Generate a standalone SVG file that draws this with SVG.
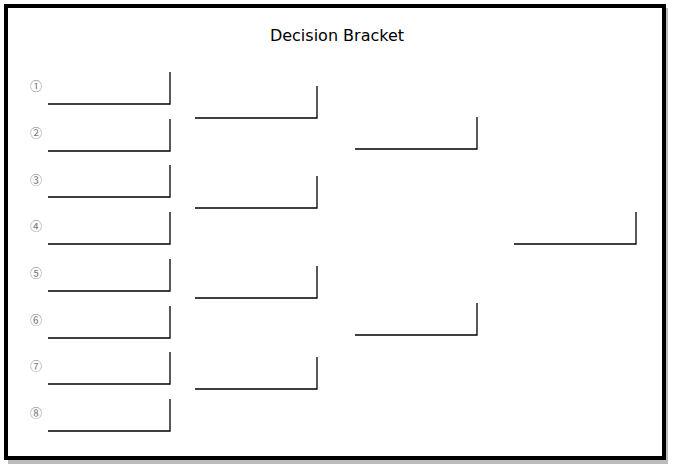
<svg xmlns="http://www.w3.org/2000/svg" width="676" height="468" viewBox="0 0 676 468">
<style>
.b{fill:none;stroke:#000;stroke-width:1.3}
.n{font-family:"Noto Sans CJK SC","DejaVu Sans",sans-serif;font-size:12px;fill:#777;text-anchor:middle}
.t{font-family:"Comic Sans MS","DejaVu Sans",sans-serif;font-size:16px;fill:#000;text-anchor:middle}
</style>
<rect x="0" y="0" width="676" height="468" fill="#fff"/>
<rect x="8" y="8" width="660" height="456" fill="#bbb"/>
<rect x="6" y="6" width="658" height="452" fill="#fff" stroke="#000" stroke-width="4"/>
<text class="t" x="337" y="41">Decision Bracket</text>
<g id="labels">
<text class="n" x="36" y="91">①</text><text class="n" x="36" y="138">②</text>
<text class="n" x="36" y="185">③</text><text class="n" x="36" y="231">④</text>
<text class="n" x="36" y="278">⑤</text><text class="n" x="36" y="325">⑥</text>
<text class="n" x="36" y="371">⑦</text><text class="n" x="36" y="418">⑧</text>
</g>
<g id="connectors">
<path class="b" d="M48 104H170V72M48 151H170V119M48 197H170V165M48 244H170V212M48 291H170V259M48 338H170V306M48 384H170V352M48 431H170V399"/>
<path class="b" d="M195 118H317V86M195 208H317V176M195 298H317V266M195 389H317V357"/>
<path class="b" d="M355 149H477V117M355 335H477V303"/>
<path class="b" d="M514 244H636V212"/>
</g>
</svg>
